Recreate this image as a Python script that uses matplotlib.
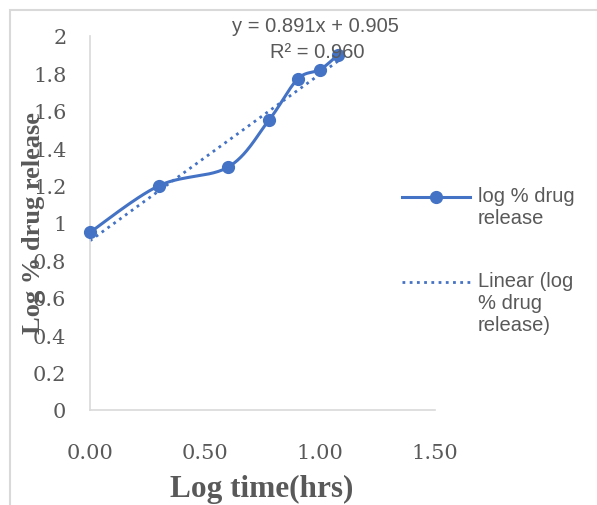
import numpy as np
import matplotlib
matplotlib.use("Agg")
import matplotlib.pyplot as plt
from matplotlib.lines import Line2D
from matplotlib.patches import Rectangle

# log time (hrs) vs log % drug release
log_time = [0.000, 0.301, 0.602, 0.778, 0.903, 1.000, 1.079]
log_release = [0.95, 1.20, 1.30, 1.55, 1.77, 1.82, 1.90]

# trendline reported on the chart
slope = 0.891
intercept = 0.905
r_squared = 0.960

x_ticks = [0.0, 0.5, 1.0, 1.5]
x_tick_labels = ["0.00", "0.50", "1.00", "1.50"]
y_ticks = [0, 0.2, 0.4, 0.6, 0.8, 1, 1.2, 1.4, 1.6, 1.8, 2]
y_tick_labels = ["0", "0.2", "0.4", "0.6", "0.8", "1", "1.2", "1.4", "1.6", "1.8", "2"]

blue = "#4472C4"
grey_text = "#595959"
grey_line = "#D9D9D9"


def smooth_curve(xs, ys, n=30):
    # bezier smoothing through every point (catmull-rom style)
    p = np.column_stack([xs, ys])
    p = np.vstack([p[0], p, p[-1]])
    out = []
    for i in range(1, len(p) - 2):
        p0, p1, p2, p3 = p[i - 1], p[i], p[i + 1], p[i + 2]
        c1 = p1 + (p2 - p0) / 6.0
        c2 = p2 - (p3 - p1) / 6.0
        t = np.linspace(0, 1, n)[:, None]
        seg = ((1 - t) ** 3) * p1 + 3 * ((1 - t) ** 2) * t * c1 + 3 * (1 - t) * t ** 2 * c2 + t ** 3 * p2
        out.append(seg if i == 1 else seg[1:])
    out = np.vstack(out)
    return out[:, 0], out[:, 1]


W, H = 597, 506
fig = plt.figure(figsize=(W / 100, H / 100), dpi=100)
ax = fig.add_axes([90 / W, 1 - 411 / H, (435 - 90) / W, (411 - 37) / H])

sx, sy = smooth_curve(log_time, log_release)
ax.plot(sx, sy, color=blue, lw=2.2, solid_capstyle="round", zorder=3, clip_on=False)
ax.plot(log_time, log_release, "o", color=blue, ms=8.5, zorder=4, clip_on=False)

trend_x = np.array([log_time[0], log_time[-1]])
ax.plot(trend_x, slope * trend_x + intercept, color=blue, lw=2,
        linestyle=(0, (1, 1.6)), zorder=2, clip_on=False)

ax.set_xlim(0, 1.5)
ax.set_ylim(0, 2)
ax.set_xticks(x_ticks)
ax.set_xticklabels(x_tick_labels)
ax.set_yticks(y_ticks)
ax.set_yticklabels(y_tick_labels)
ax.tick_params(axis="both", length=0, labelcolor=grey_text, labelsize=15)
ax.tick_params(axis="x", pad=24)
ax.tick_params(axis="y", pad=17)
for lab in ax.get_xticklabels() + ax.get_yticklabels():
    lab.set_family("DejaVu Serif")
for side in ["top", "right"]:
    ax.spines[side].set_visible(False)
for side in ["left", "bottom"]:
    ax.spines[side].set_color(grey_line)
    ax.spines[side].set_linewidth(1.2)

# equation and R squared
fig.text(315 / W, 1 - 26 / H, "y = %.3fx + %.3f" % (slope, intercept), ha="center", va="center",
         fontsize=14.5, color=grey_text, family="Liberation Sans")
fig.text(317 / W, 1 - 52 / H, "R² = %.3f" % r_squared, ha="center", va="center",
         fontsize=14.5, color=grey_text, family="Liberation Sans")

# axis titles
fig.text(262 / W, 1 - 489 / H, "Log time(hrs)", ha="center", va="center",
         fontsize=22.5, fontweight="bold", color=grey_text, family="Liberation Serif")
fig.text(34 / W, 1 - 223 / H, "Log % drug release", ha="center", va="center", rotation=90,
         fontsize=19, fontweight="bold", color=grey_text, family="Liberation Serif")

# legend drawn on the right
fig.add_artist(Line2D([402 / W, 470 / W], [1 - 198 / H] * 2, color=blue, lw=2.2))
fig.add_artist(Line2D([436 / W], [1 - 198 / H], marker="o", color=blue, ms=8.5))
fig.text(478 / W, 1 - 187 / H, "log % drug\nrelease", ha="left", va="top",
         fontsize=14.5, color=grey_text, family="Liberation Sans", linespacing=1.2)
fig.add_artist(Line2D([402 / W, 470 / W], [1 - 283 / H] * 2, color=blue, lw=2,
                      linestyle=(0, (1, 1.6))))
fig.text(478 / W, 1 - 272 / H, "Linear (log\n% drug\nrelease)", ha="left", va="top",
         fontsize=14.5, color=grey_text, family="Liberation Sans", linespacing=1.2)

# chart area border
fig.add_artist(Rectangle((10 / W, -0.1), 1.2, 1.1 - 11 / H, transform=fig.transFigure,
                         fill=False, edgecolor=grey_line, lw=1.5))

fig.savefig("out.png", dpi=100)
